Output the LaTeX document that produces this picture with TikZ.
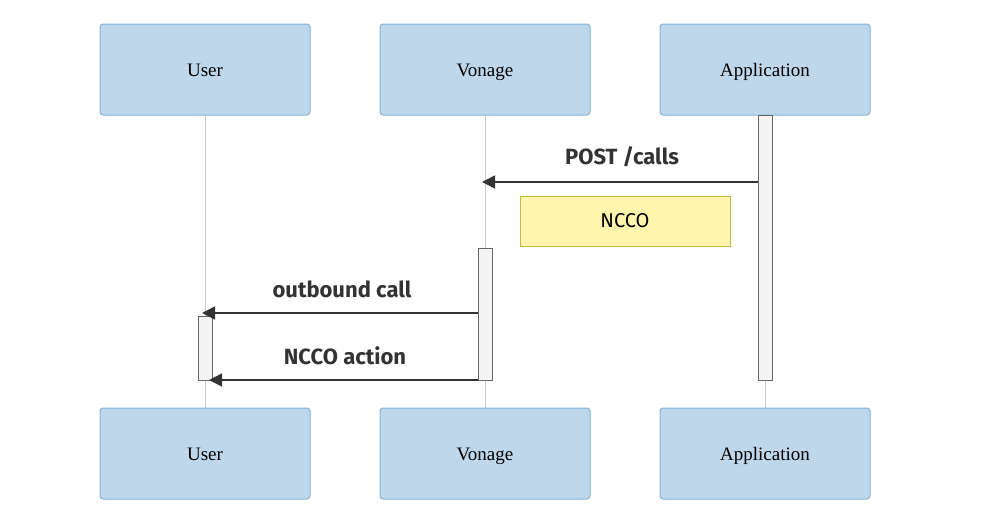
\documentclass[tikz,border=0pt]{standalone}
\usepackage{fontspec}
\setmainfont{Liberation Serif}
\newfontfamily\lblfont{Fira Sans}
\usetikzlibrary{arrows.meta}
\definecolor{actfill}{RGB}{191,215,234}
\definecolor{actdraw}{RGB}{133,180,216}
\definecolor{lifecol}{RGB}{204,204,204}
\definecolor{barfill}{RGB}{244,244,244}
\definecolor{bardraw}{RGB}{102,102,102}
\definecolor{notefill}{RGB}{255,245,173}
\definecolor{notedraw}{RGB}{190,186,70}
\definecolor{msgcol}{RGB}{51,51,51}
\tikzset{
  actor/.style={draw=actdraw, fill=actfill, line width=1pt, rounded corners=3pt,
    minimum width=210pt, minimum height=91pt, inner sep=0pt,
    text height=15pt, text depth=2pt,
    font=\fontsize{19}{22}\selectfont},
  lifeline/.style={draw=lifecol, line width=1pt},
  actbar/.style={draw=bardraw, fill=barfill, line width=1pt},
  msg/.style={draw=msgcol, line width=1.5pt, -{Triangle[length=13pt,width=13pt]}},
  msglabel/.style={font=\lblfont\bfseries\fontsize{22}{26}\selectfont, text=msgcol, inner sep=0pt},
  note/.style={draw=notedraw, fill=notefill, line width=1pt, minimum width=210pt,
    minimum height=50pt, inner sep=0pt, font=\lblfont\fontsize{20}{24}\selectfont}
}
\begin{document}
\begin{tikzpicture}[x=1pt,y=-1pt]
\useasboundingbox (0,0) rectangle (994,528);
% lifelines
\draw[lifeline] (205,115) -- (205,408);
\draw[lifeline] (485,115) -- (485,408);
\draw[lifeline] (765,115) -- (765,408);
% actors
\node[actor] (u1) at (205,69.5) {User};
\node[actor] (v1) at (485,69.5) {Vonage};
\node[actor] (a1) at (765,69.5) {Application};
\node[actor] (u2) at (205,453.5) {User};
\node[actor] (v2) at (485,453.5) {Vonage};
\node[actor] (a2) at (765,453.5) {Application};
% activation bars
\filldraw[actbar] (758,115) rectangle (772,380);
\filldraw[actbar] (478,248) rectangle (492,380);
\filldraw[actbar] (198,316) rectangle (212,380);
% messages
\coordinate (m1s) at (758,182);
\coordinate (m1e) at (482,182);
\draw[msg] (m1s) -- (m1e);
\node[msglabel] (l1) at (622,157) {POST /calls};
\node[note] (n1) at (625,221) {NCCO};
\coordinate (m2s) at (478,313);
\coordinate (m2e) at (202,313);
\draw[msg] (m2s) -- (m2e);
\node[msglabel] (l2) at (342,289) {outbound call};
\coordinate (m3s) at (478,380);
\coordinate (m3e) at (209,380);
\draw[msg] (m3s) -- (m3e);
\node[msglabel] (l3) at (345,356) {NCCO action};
\end{tikzpicture}
\end{document}
